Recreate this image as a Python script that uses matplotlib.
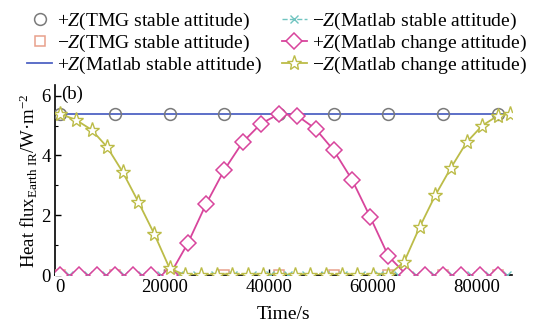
import matplotlib
matplotlib.use("Agg")
import matplotlib.pyplot as plt

plt.rcParams['font.family'] = ['Liberation Serif', 'DejaVu Serif']
plt.rcParams['mathtext.fontset'] = 'custom'
plt.rcParams['mathtext.rm'] = 'Liberation Serif'
plt.rcParams['mathtext.it'] = 'Liberation Serif:italic'

# +Z TMG stable attitude (circles)
t_tmg = [0, 10500, 21000, 31500, 42000, 52500, 63000, 73500, 84000]
pz_tmg = [5.4, 5.4, 5.4, 5.4, 5.4, 5.4, 5.4, 5.4, 5.4]
# -Z TMG stable attitude (squares)
mz_tmg = [0, 0, 0, 0, 0, 0, 0, 0, 0]

# +Z Matlab stable attitude (line)
t_ms = [0, 86400]
pz_ms = [5.4, 5.4]
# -Z Matlab stable attitude (x markers, dashed)
t_mzs = [1750, 5250, 8750, 12250, 15750, 19250, 22750, 26250, 29750, 33250,
         36750, 40250, 43750, 47250, 50750, 54250, 57750, 61250, 64750,
         68250, 71750, 75250, 78750, 82250, 85750]
mz_ms = [0] * len(t_mzs)

# +Z Matlab change attitude (diamonds)
t_pc = [0, 3500, 7000, 10500, 14000, 17500, 21000, 24500, 28000, 31500, 35000,
        38500, 42000, 45500, 49000, 52500, 56000, 59500, 63000, 66500, 70000,
        73500, 77000, 80500, 84000]
pz_pc = [0, 0, 0, 0, 0, 0, 0, 1.07, 2.38, 3.52, 4.44, 5.06, 5.39, 5.33, 4.89,
         4.17, 3.19, 1.94, 0.63, 0, 0, 0, 0, 0, 0]

# -Z Matlab change attitude (stars)
t_mc = [0, 3000, 6000, 9000, 12000, 15000, 18000, 21000, 24000, 27000, 30000,
        33000, 36000, 39000, 42000, 45000, 48000, 51000, 54000, 57000, 60000,
        63000, 66000, 69000, 72000, 75000, 78000, 81000, 84000, 86400]
mz_mc = [5.39, 5.19, 4.86, 4.28, 3.44, 2.44, 1.39, 0.22, 0, 0, 0, 0, 0, 0, 0,
         0, 0, 0, 0, 0, 0, 0, 0.44, 1.61, 2.67, 3.59, 4.44, 5.0, 5.33, 5.4]

fig = plt.figure(figsize=(5.4, 3.24), dpi=100)
ax = fig.add_axes([0.102, 0.151, 0.846, 0.586])

c_circ = '#7a7a7a'
c_sq = '#e8a08c'
c_blue = '#4f63c4'
c_teal = '#70c4c0'
c_pink = '#d8459c'
c_star = '#bcbc48'

l1, = ax.plot(t_tmg, pz_tmg, ls='none', marker='o', ms=8.5, mfc='none',
              mec=c_circ, mew=1.1, label='+$Z$(TMG stable attitude)', zorder=3)
l2, = ax.plot(t_tmg, mz_tmg, ls='none', marker='s', ms=7, mfc='none',
              mec=c_sq, mew=1.1, label='−$Z$(TMG stable attitude)', zorder=3)
l3, = ax.plot(t_ms, pz_ms, ls='-', color=c_blue, lw=1.3,
              label='+$Z$(Matlab stable attitude)', zorder=2)
l4, = ax.plot(t_mzs, mz_ms, ls='--', color=c_teal, lw=1.0, marker='x', ms=6,
              mew=1.0, label='−$Z$(Matlab stable attitude)', zorder=3)
l5, = ax.plot(t_pc, pz_pc, ls='-', color=c_pink, lw=1.3, marker='D', ms=8,
              mfc='white', mec=c_pink, mew=1.1,
              label='+$Z$(Matlab change attitude)', zorder=4)
l6, = ax.plot(t_mc, mz_mc, ls='-', color=c_star, lw=1.3, marker='*', ms=11,
              mfc='white', mec=c_star, mew=1.0,
              label='−$Z$(Matlab change attitude)', zorder=5)

ax.set_xlim(-1000, 86700)
ax.set_ylim(0, 6.35)
ax.set_xticks([0, 20000, 40000, 60000, 80000])
ax.set_yticks([0, 2, 4, 6])
ax.set_yticks([1, 3, 5], minor=True)
ax.set_xticks([10000, 30000, 50000, 70000], minor=True)
ax.tick_params(axis='both', which='major', direction='in', length=4, width=1,
               labelsize=13.5, pad=3)
ax.tick_params(axis='both', which='minor', direction='in', length=2, width=0.8)
for s in ['top', 'right']:
    ax.spines[s].set_visible(False)
for s in ['left', 'bottom']:
    ax.spines[s].set_linewidth(1.2)

ax.set_xlabel('Time/s', fontsize=14, labelpad=7)
ax.set_ylabel('Heat flux$_{\\mathrm{Earth\\ IR}}$/W·m$^{-2}$', fontsize=13.5,
              labelpad=1)
ax.text(0.014, 0.995, '(b)', transform=ax.transAxes, fontsize=13.5,
        ha='left', va='top')

fig.legend(handles=[l1, l2, l3, l4, l5, l6], ncol=2, loc='upper left',
           bbox_to_anchor=(0.03, 1.0), frameon=False, fontsize=14,
           handlelength=1.3, handletextpad=0.25, columnspacing=1.0,
           labelspacing=0.05, borderaxespad=0.15)

fig.savefig('out.png', dpi=100)
